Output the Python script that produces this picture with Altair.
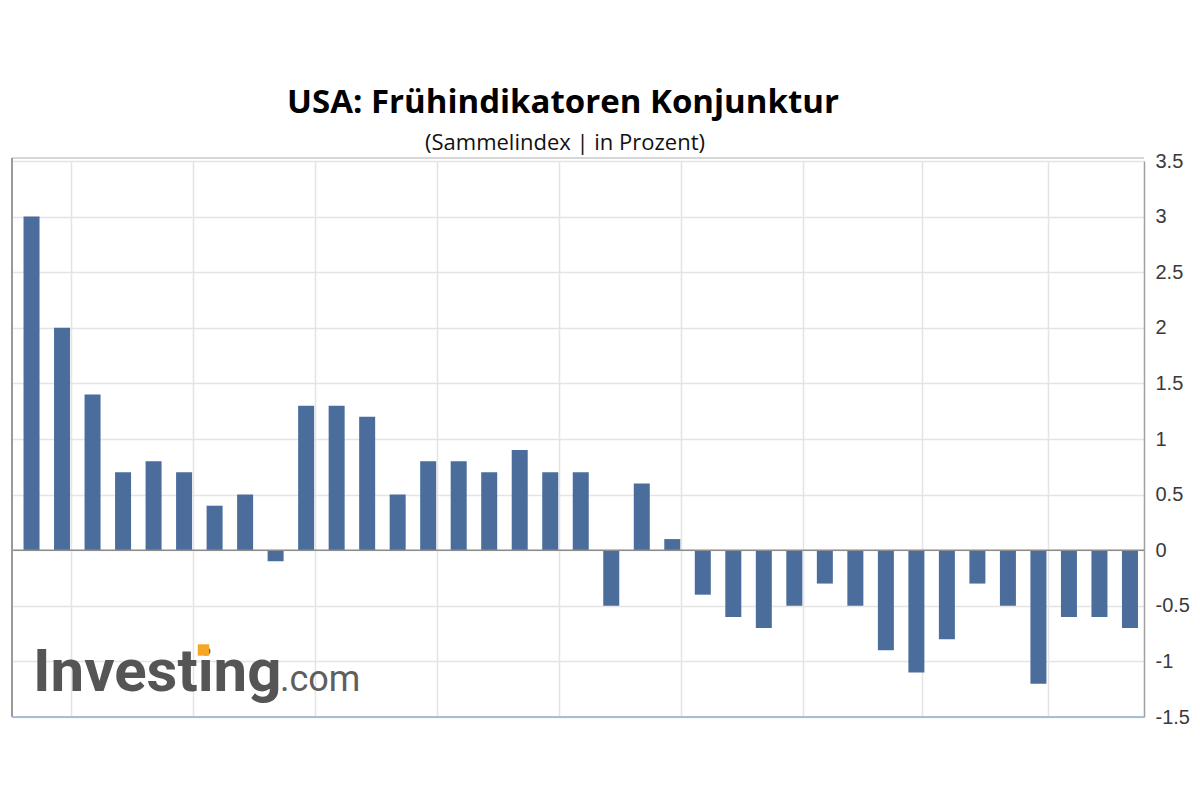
import altair as alt
import pandas as pd

# ---- data ----
monate = list(range(37))
werte = [3.0, 2.0, 1.4, 0.7, 0.8, 0.7, 0.4, 0.5, -0.1, 1.3, 1.3, 1.2, 0.5,
         0.8, 0.8, 0.7, 0.9, 0.7, 0.7, -0.5, 0.6, 0.1, -0.4, -0.6, -0.7,
         -0.5, -0.3, -0.5, -0.9, -1.1, -0.8, -0.3, -0.5, -1.2, -0.6, -0.6, -0.7]
y_ticks = [-1.5, -1.0, -0.5, 0.0, 0.5, 1.0, 1.5, 2.0, 2.5, 3.0, 3.5]
x_grid = [1.3, 5.3, 9.3, 13.3, 17.3, 21.3, 25.3, 29.2, 33.3]

titel = "USA: Frühindikatoren Konjunktur"
untertitel = "(Sammelindex | in Prozent)"

W, H = 1132, 556
BAR = "#4a6d9c"

df = pd.DataFrame({"monat": monate, "wert": werte})

xscale = alt.Scale(domain=[-0.64, 36.46], nice=False, zero=False, padding=0)
yscale = alt.Scale(domain=[-1.5, 3.5], nice=False, padding=0)

bars = alt.Chart(df).mark_bar(size=16, color=BAR).encode(
    x=alt.X("monat:Q", scale=xscale,
            axis=alt.Axis(values=x_grid, labels=False, ticks=False, domain=False,
                          title=None, grid=True, gridColor="#e4e4e4", gridWidth=1.5)),
    y=alt.Y("wert:Q", scale=yscale,
            axis=alt.Axis(orient="right", values=y_ticks, title=None, ticks=False,
                          domain=True, domainColor="#a0a0a0", domainWidth=1.5,
                          grid=True, gridColor="#e4e4e4", gridWidth=1.5,
                          labelExpr="toString(datum.value)",
                          labelFont="Liberation Sans", labelFontSize=20,
                          labelColor="#3a3a3a", labelPadding=11)),
)

zero = alt.Chart(pd.DataFrame({"y": [0]})).mark_rule(
    color="#8c8c8c", strokeWidth=1.5).encode(y=alt.Y("y:Q", scale=yscale))

left_line = alt.Chart(pd.DataFrame({"a": [0]})).mark_rule(
    color="#9a9a9a", strokeWidth=2).encode(
    x=alt.value(0), y=alt.value(-3), y2=alt.value(H))
bottom_line = alt.Chart(pd.DataFrame({"a": [0]})).mark_rule(
    color="#a9bcd8", strokeWidth=2).encode(
    x=alt.value(0), x2=alt.value(W), y=alt.value(H))
top_line = alt.Chart(pd.DataFrame({"a": [0]})).mark_rule(
    color="#d6d6d6", strokeWidth=2).encode(
    x=alt.value(0), x2=alt.value(W), y=alt.value(-3))

title_t = alt.Chart(pd.DataFrame({"t": [titel]})).mark_text(
    font="Open Sans", fontWeight="bold", fontSize=33, color="#000000",
    align="center", baseline="alphabetic").encode(
    text="t:N", x=alt.value(551), y=alt.value(-48))
sub_t = alt.Chart(pd.DataFrame({"t": [untertitel]})).mark_text(
    font="Open Sans", fontSize=22, color="#111111",
    align="center", baseline="alphabetic").encode(
    text="t:N", x=alt.value(553), y=alt.value(-11))

logo1 = alt.Chart(pd.DataFrame({"t": ["Investing"]})).mark_text(
    font="Roboto", fontWeight="bold", fontSize=60, color="#555555",
    align="left", baseline="alphabetic").encode(
    text="t:N", x=alt.value(21), y=alt.value(530))
logo_dot = alt.Chart(pd.DataFrame({"a": [0]})).mark_square(
    size=130, color="#f5a623", opacity=1, filled=True).encode(
    x=alt.value(191.5), y=alt.value(489))
logo2 = alt.Chart(pd.DataFrame({"t": [".com"]})).mark_text(
    font="Roboto", fontSize=36, color="#5e5e5e",
    align="left", baseline="alphabetic").encode(
    text="t:N", x=alt.value(268), y=alt.value(530))

chart = alt.layer(bars, zero, top_line, left_line, bottom_line,
                  title_t, sub_t, logo1, logo_dot, logo2).properties(
    width=W, height=H,
    padding={"left": 12, "top": 161, "right": 1200 - 12 - W, "bottom": 800 - 161 - H},
    autosize="none",
    background="#ffffff",
).configure_view(stroke=None)

chart.save("out.html", embed_options={"renderer": "svg", "actions": False})
